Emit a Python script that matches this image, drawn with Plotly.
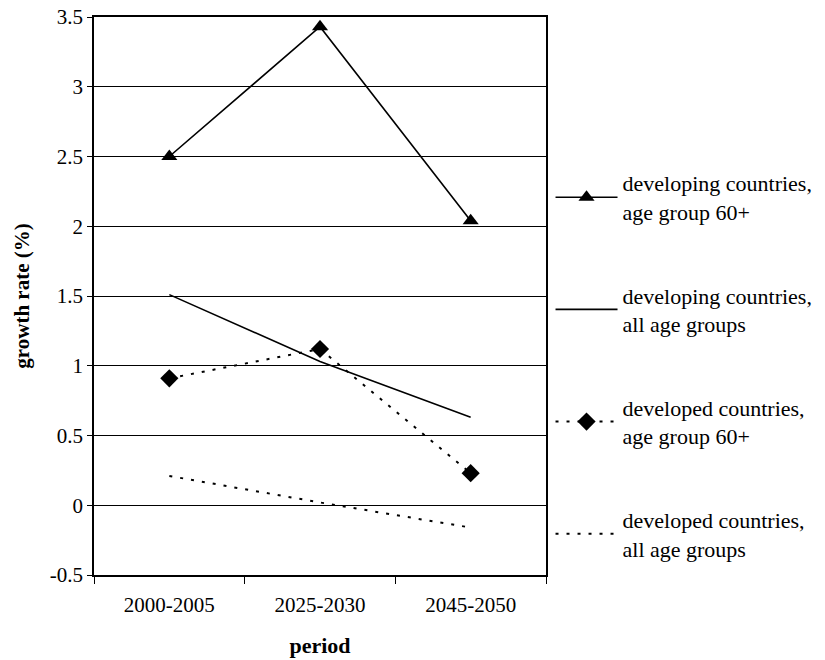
import plotly.graph_objects as go

# Growth rates (%) by period
periods = ["2000-2005", "2025-2030", "2045-2050"]
dev_60 = [2.50, 3.43, 2.04]        # developing countries, age group 60+
dev_all = [1.51, 1.03, 0.63]       # developing countries, all age groups
devd_60 = [0.91, 1.12, 0.23]       # developed countries, age group 60+
devd_all = [0.21, 0.02, -0.16]     # developed countries, all age groups

y_ticks = [-0.5, 0, 0.5, 1, 1.5, 2, 2.5, 3, 3.5]
y_tick_labels = ["-0.5", "0", "0.5", "1", "1.5", "2", "2.5", "3", "3.5"]

names = [
    "developing countries,<br>age group 60+",
    "developing countries,<br>all age groups",
    "developed countries,<br>age group 60+",
    "developed countries,<br>all age groups",
]

FONT = "Liberation Serif, Times New Roman, serif"
DOTS = "3px,8px"

fig = go.Figure()
fig.add_trace(go.Scatter(
    x=periods, y=dev_60, name=names[0], legendgroup="a",
    mode="lines+markers",
    line=dict(color="black", width=1.6),
    marker=dict(symbol="triangle-up", size=14, color="black"),
))
fig.add_trace(go.Scatter(
    x=periods, y=dev_all, name=names[1], legendgroup="b",
    mode="lines",
    line=dict(color="black", width=1.6),
))
fig.add_trace(go.Scatter(
    x=periods, y=devd_60, name=names[2], legendgroup="c",
    mode="lines+markers",
    line=dict(color="black", width=2, dash=DOTS),
    marker=dict(symbol="diamond", size=14, color="black"),
))
fig.add_trace(go.Scatter(
    x=periods, y=devd_all, name=names[3], legendgroup="d",
    mode="lines",
    line=dict(color="black", width=2, dash=DOTS),
))

fig.update_layout(
    width=825, height=660,
    margin=dict(l=94, r=279, t=17, b=85, autoexpand=False),
    paper_bgcolor="white", plot_bgcolor="white",
    font=dict(family=FONT, size=21, color="black"),
    showlegend=True,
    legend=dict(
        x=1.01, xanchor="left", y=0.74, yanchor="top",
        font=dict(family=FONT, size=22, color="black"),
        tracegroupgap=52, traceorder="grouped",
        itemwidth=62, bgcolor="rgba(0,0,0,0)",
    ),
)

fig.update_xaxes(
    type="category", range=[-0.5, 2.5], automargin=False,
    tickson="boundaries", ticks="outside", ticklen=7, tickcolor="black",
    ticklabelstandoff=10,
    showgrid=False, showline=True, linecolor="black", linewidth=1.5,
    mirror=True, tickfont=dict(family=FONT, size=21),
    title=dict(text="<b>period</b>", font=dict(family=FONT, size=22), standoff=22),
)
fig.update_yaxes(
    range=[-0.5, 3.5], tickmode="array", tickvals=y_ticks, ticktext=y_tick_labels,
    automargin=False,
    ticks="outside", ticklen=5, tickcolor="black",
    showgrid=True, gridcolor="black", gridwidth=1,
    zeroline=False, showline=True, linecolor="black", linewidth=1.5,
    mirror=True, tickfont=dict(family=FONT, size=21),
    title=dict(text="<b>growth rate (%)</b>", font=dict(family=FONT, size=21), standoff=14),
)

fig.write_html("out.html")
